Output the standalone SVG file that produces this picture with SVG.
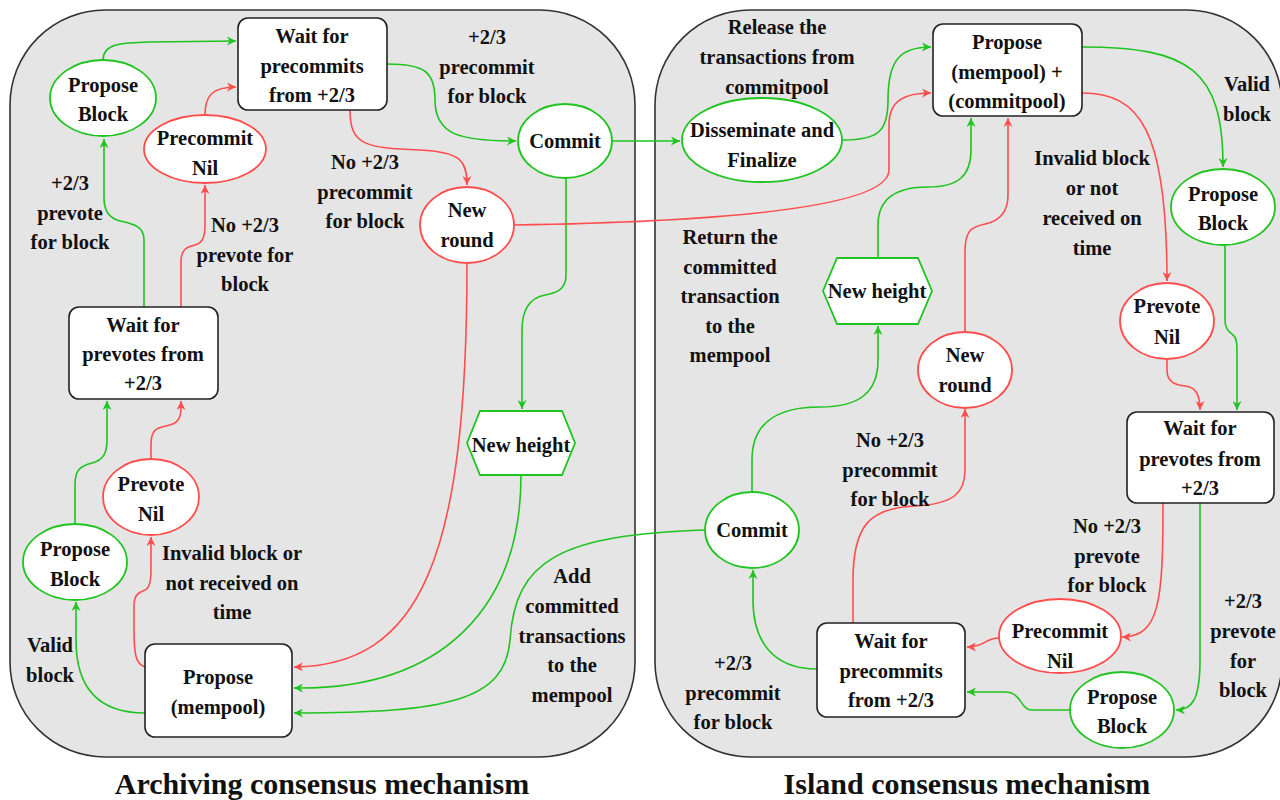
<svg xmlns="http://www.w3.org/2000/svg" width="1280" height="800" viewBox="0 0 1280 800">
<style>
.panel{fill:#e5e5e5;stroke:#333;stroke-width:1.6}
.box{fill:#fff;stroke:#222;stroke-width:1.6}
.gn{fill:#fff;stroke:#1fc41f;stroke-width:1.8}
.rn{fill:#fff;stroke:#ff4d4d;stroke-width:1.8}
.g{fill:none;stroke:#1fc41f;stroke-width:1.6;marker-end:url(#ag)}
.gx{fill:none;stroke:#1fc41f;stroke-width:1.6}
.r{fill:none;stroke:#ff4d4d;stroke-width:1.6;marker-end:url(#ar)}
text{font-family:"Liberation Serif","Times New Roman",serif;font-weight:bold;font-size:20.5px;text-anchor:middle;fill:#111}
.title{font-size:30px}
</style>
<defs>
<marker id="ag" viewBox="0 0 10 10" refX="10" refY="5" markerUnits="userSpaceOnUse" markerWidth="10" markerHeight="9" orient="auto"><path d="M0,0 L10,5 L0,10 L3,5 z" fill="#1fc41f"/></marker>
<marker id="ar" viewBox="0 0 10 10" refX="10" refY="5" markerUnits="userSpaceOnUse" markerWidth="10" markerHeight="9" orient="auto"><path d="M0,0 L10,5 L0,10 L3,5 z" fill="#ff4d4d"/></marker>
</defs>

<g id="panels">
<rect class="panel" x="10" y="10" width="625" height="747" rx="95" ry="95"/>
<rect class="panel" x="655" y="10" width="627" height="747" rx="95" ry="95"/>
<text class="title" x="322" y="794">Archiving consensus mechanism</text>
<text class="title" x="967" y="794">Island consensus mechanism</text>
</g>

<g id="connectors">
<!-- left panel -->
<path class="g" d="M103,60 C103,42 125,43 150,42 L236,41"/>
<path class="r" d="M205,115 C205,95 213,87 236,87"/>
<path class="g" d="M144,307 L144,240 C144,226 133,224 120,221 C108,218 104,210 104,198 L104,139"/>
<path class="r" d="M181,307 L181,262 C181,250 186,247 195,245 C203,243 205,236 205,225 L205,185"/>
<path class="r" d="M350,110 C350,145 365,148 420,150 C460,152 467,160 467,185"/>
<path class="g" d="M387,64 C425,64 435,72 435,100 C435,135 460,141 516,141"/>
<path class="g" d="M612,141 L680,141"/>
<path class="g" d="M566,178 L566,275 C566,290 556,293 545,295 C530,298 522,310 522,330 L522,409"/>
<path class="gx" d="M521,475 C521,610 440,688 300,688"/>
<path class="g" d="M300,688 L294,688"/>
<path class="r" d="M467,263 C467,560 420,665 294,667"/>
<path class="g" d="M705,530 C560,535 515,560 510,640 C505,700 450,713 294,713"/>
<path class="g" d="M145,713 C100,713 76,690 76,640 L76,602"/>
<path class="r" d="M145,667 C136,664 134,655 134,630 L134,605 C134,594 140,592 145,590 C150,588 151,580 151,570 L151,537"/>
<path class="g" d="M75,523 L75,485 C75,470 80,466 92,463 C104,460 107,452 107,440 L107,401"/>
<path class="r" d="M151,460 L151,445 C151,430 156,428 166,426 C178,424 181,418 181,408 L181,401"/>
<path class="r" d="M514,225 C700,222 889,210 889,170 L889,125 C889,100 905,93 931,93"/>
<path class="g" d="M843,140 C880,140 888,130 888,100 C888,60 900,47 931,47"/>
<!-- right panel -->
<path class="g" d="M1082,47 C1190,47 1223,70 1223,167"/>
<path class="r" d="M1082,93 C1140,93 1167,130 1167,281"/>
<path class="g" d="M1225,245 L1225,320 C1225,330 1230,332 1233,335 C1237,338 1237,345 1237,355 L1237,410"/>
<path class="r" d="M1167,359 L1167,370 C1167,382 1175,385 1185,386 C1196,387 1200,395 1200,410"/>
<path class="r" d="M1163,503 C1163,600 1160,637 1122,637"/>
<path class="g" d="M1200,503 L1200,660 C1200,700 1192,710 1176,710"/>
<path class="r" d="M999,638 C985,638 985,647 967,647"/>
<path class="g" d="M1070,710 L1032,710 C1020,710 1022,692 1005,692 L967,692"/>
<path class="g" d="M817,669 C772,669 753,640 753,600 L753,570"/>
<path class="r" d="M853,623 L853,580 C853,525 870,508 915,506 C955,504 965,492 965,470 L965,409"/>
<path class="g" d="M752,492 L752,460 C752,420 780,407 820,407 C860,407 878,392 878,360 L878,326"/>
<path class="g" d="M878,258 L878,225 C878,197 898,187 928,187 C958,187 971,176 971,150 L971,118"/>
<path class="r" d="M965,332 L965,252 C965,232 970,227 985,224 C1000,221 1008,212 1008,195 L1008,118"/>
</g>

<g id="n_pb1"><ellipse class="gn" cx="103" cy="98" rx="53" ry="38"/><text x="103" y="92">Propose</text><text x="103" y="121">Block</text></g>
<g id="n_wpc1"><rect class="box" x="238" y="18" width="149" height="92" rx="10"/><text x="312" y="43">Wait for</text><text x="312" y="73">precommits</text><text x="312" y="102">from +2/3</text></g>
<g id="n_pcn1"><ellipse class="rn" cx="205" cy="149" rx="61" ry="34"/><text x="205" y="145">Precommit</text><text x="205" y="175">Nil</text></g>
<g id="n_com1"><ellipse class="gn" cx="565" cy="141" rx="47" ry="37"/><text x="565" y="148">Commit</text></g>
<g id="n_nr1"><ellipse class="rn" cx="467" cy="225" rx="47" ry="38"/><text x="467" y="217">New</text><text x="467" y="247">round</text></g>
<g id="n_nh1"><polygon class="gn" points="480,411 562,411 575,443 562,475 480,475 467,443"/><text x="521" y="452">New height</text></g>
<g id="n_wpv1"><rect class="box" x="69" y="307" width="149" height="92" rx="10"/><text x="143" y="332">Wait for</text><text x="143" y="361">prevotes from</text><text x="143" y="390">+2/3</text></g>
<g id="n_pvn1"><ellipse class="rn" cx="151" cy="497" rx="48" ry="38"/><text x="151" y="491">Prevote</text><text x="151" y="521">Nil</text></g>
<g id="n_pb2"><ellipse class="gn" cx="75" cy="562" rx="52" ry="38"/><text x="75" y="556">Propose</text><text x="75" y="586">Block</text></g>
<g id="n_pm1"><rect class="box" x="145" y="644" width="147" height="93" rx="10"/><text x="218" y="684">Propose</text><text x="218" y="714">(mempool)</text></g>

<g id="n_dis"><ellipse class="gn" cx="762" cy="140" rx="80" ry="42"/><text x="762" y="137">Disseminate and</text><text x="762" y="167">Finalize</text></g>
<g id="n_pmc"><rect class="box" x="933" y="24" width="149" height="92" rx="10"/><text x="1007" y="49">Propose</text><text x="1007" y="79">(mempool) +</text><text x="1007" y="108">(commitpool)</text></g>
<g id="n_pb3"><ellipse class="gn" cx="1223" cy="207" rx="52" ry="38"/><text x="1223" y="201">Propose</text><text x="1223" y="230">Block</text></g>
<g id="n_pvn2"><ellipse class="rn" cx="1167" cy="321" rx="47" ry="38"/><text x="1167" y="313">Prevote</text><text x="1167" y="344">Nil</text></g>
<g id="n_wpv2"><rect class="box" x="1127" y="412" width="147" height="91" rx="10"/><text x="1200" y="435">Wait for</text><text x="1200" y="466">prevotes from</text><text x="1200" y="495">+2/3</text></g>
<g id="n_nh2"><polygon class="gn" points="837,258 918,258 932,291 918,324 837,324 823,291"/><text x="877" y="298">New height</text></g>
<g id="n_nr2"><ellipse class="rn" cx="965" cy="370" rx="47" ry="38"/><text x="965" y="362">New</text><text x="965" y="392">round</text></g>
<g id="n_com2"><ellipse class="gn" cx="752" cy="530" rx="47" ry="38"/><text x="752" y="537">Commit</text></g>
<g id="n_wpc2"><rect class="box" x="817" y="623" width="148" height="94" rx="10"/><text x="891" y="648">Wait for</text><text x="891" y="678">precommits</text><text x="891" y="707">from +2/3</text></g>
<g id="n_pcn2"><ellipse class="rn" cx="1060" cy="636" rx="61" ry="37"/><text x="1060" y="638">Precommit</text><text x="1060" y="668">Nil</text></g>
<g id="n_pb4"><ellipse class="gn" cx="1122" cy="710" rx="52" ry="38"/><text x="1122" y="704">Propose</text><text x="1122" y="733">Block</text></g>

<g id="labels">
<text x="70" y="190">+2/3<tspan x="70" dy="29.5">prevote</tspan><tspan x="70" dy="29.5">for block</tspan></text>
<text x="245" y="232">No +2/3<tspan x="245" dy="29.5">prevote for</tspan><tspan x="245" dy="29.5">block</tspan></text>
<text x="487" y="44">+2/3<tspan x="487" dy="29.5">precommit</tspan><tspan x="487" dy="29.5">for block</tspan></text>
<text x="365" y="169">No +2/3<tspan x="365" dy="29.5">precommit</tspan><tspan x="365" dy="29.5">for block</tspan></text>
<text x="232" y="560">Invalid block or<tspan x="232" dy="29.5">not received on</tspan><tspan x="232" dy="29.5">time</tspan></text>
<text x="50" y="652">Valid<tspan x="50" dy="30">block</tspan></text>
<text x="572" y="583">Add<tspan x="572" dy="29.8">committed</tspan><tspan x="572" dy="29.8">transactions</tspan><tspan x="572" dy="29.8">to the</tspan><tspan x="572" dy="29.8">mempool</tspan></text>
<text x="777" y="34">Release the<tspan x="777" dy="30">transactions from</tspan><tspan x="777" dy="30">commitpool</tspan></text>
<text x="1247" y="91">Valid<tspan x="1247" dy="30">block</tspan></text>
<text x="1092" y="165">Invalid block<tspan x="1092" dy="30">or not</tspan><tspan x="1092" dy="30">received on</tspan><tspan x="1092" dy="30">time</tspan></text>
<text x="730" y="244">Return the<tspan x="730" dy="29.5">committed</tspan><tspan x="730" dy="29.5">transaction</tspan><tspan x="730" dy="29.5">to the</tspan><tspan x="730" dy="29.5">mempool</tspan></text>
<text x="890" y="447">No +2/3<tspan x="890" dy="29.5">precommit</tspan><tspan x="890" dy="29.5">for block</tspan></text>
<text x="1107" y="533">No +2/3<tspan x="1107" dy="29.5">prevote</tspan><tspan x="1107" dy="29.5">for block</tspan></text>
<text x="1243" y="608">+2/3<tspan x="1243" dy="29.8">prevote</tspan><tspan x="1243" dy="29.8">for</tspan><tspan x="1243" dy="29.8">block</tspan></text>
<text x="733" y="670">+2/3<tspan x="733" dy="29.5">precommit</tspan><tspan x="733" dy="29.5">for block</tspan></text>
</g>
</svg>
